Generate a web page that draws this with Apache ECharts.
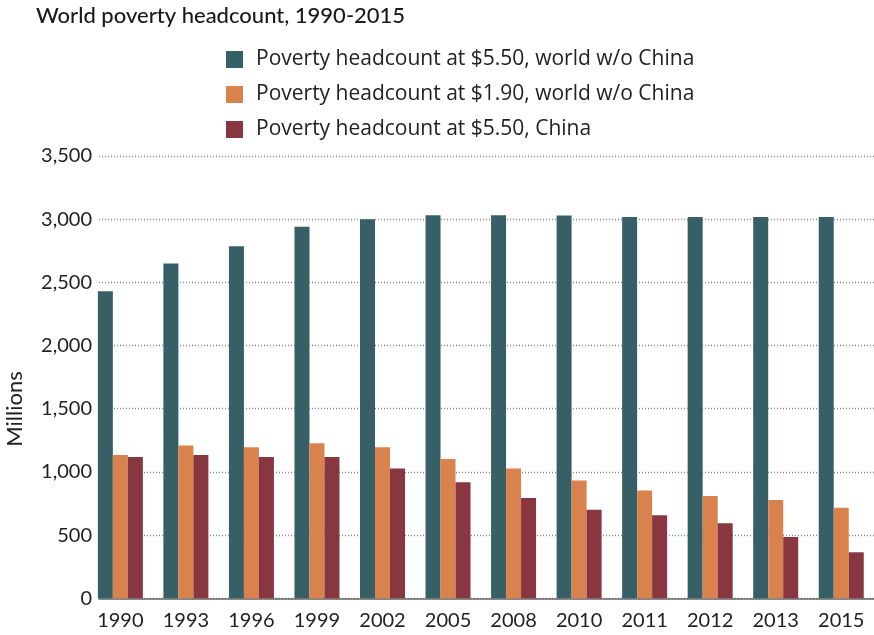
<!DOCTYPE html>
<html>
<head>
<meta charset="utf-8">
<script src="https://cdn.jsdelivr.net/npm/echarts@6/dist/echarts.min.js"></script>
<style>html,body{margin:0;padding:0;background:#fff}#c{width:874px;height:635px}</style>
</head>
<body>
<div id="c"></div>
<script>
var years = ['1990','1993','1996','1999','2002','2005','2008','2010','2011','2012','2013','2015'];
var world550 = [2430, 2650, 2785, 2940, 3000, 3032, 3032, 3030, 3017, 3017, 3017, 3017];
var world190 = [1134, 1210, 1195, 1226, 1195, 1102, 1028, 933, 854, 809, 778, 717];
var china550 = [1118, 1134, 1118, 1118, 1028, 918, 794, 701, 657, 593, 485, 364];
var seriesNames = ['Poverty headcount at $5.50, world w/o China', 'Poverty headcount at $1.90, world w/o China', 'Poverty headcount at $5.50, China'];
var colors = ['#366066', '#d9824e', '#883640'];
var FONT = 'Lato';
var chart = echarts.init(document.getElementById('c'), null, {renderer: 'canvas'});
var yBase = {type: 'value', min: 0, max: 3500, interval: 500};
chart.setOption({
  animation: false,
  textStyle: {fontFamily: FONT},
  legend: {orient: 'vertical', left: 221, top: 44, itemWidth: 17, itemHeight: 17, itemGap: 14,
    icon: 'rect', selectedMode: false,
    textStyle: {fontFamily: 'Open Sans', fontSize: 21, color: '#222', padding: [0, 0, 0, 8]},
    data: seriesNames},
  grid: [
    {left: 99, right: 0, top: 156, bottom: 36.7},
    {left: 87.6, right: -9.9, top: 156, bottom: 36.7}
  ],
  xAxis: [
    {gridIndex: 0, type: 'value', min: 0, max: 1, show: true,
      axisLine: {show: true, onZero: false, lineStyle: {color: '#666', width: 1.5}},
      axisTick: {show: false}, axisLabel: {show: false}, splitLine: {show: false}},
    {gridIndex: 1, type: 'category', data: years,
      axisLine: {show: false}, axisTick: {show: false},
      axisLabel: {fontFamily: FONT, fontSize: 20, color: '#222', margin: 12}}
  ],
  yAxis: [
    Object.assign({gridIndex: 0,
      axisLine: {show: false}, axisTick: {show: false},
      axisLabel: {fontFamily: FONT, fontSize: 20, color: '#222', margin: 7,
        formatter: function (v) { return v.toLocaleString('en-US'); }},
      splitLine: {show: true, lineStyle: {color: '#888', width: 1.3, type: [1, 2]}}}, yBase),
    Object.assign({gridIndex: 1, show: false, splitLine: {show: false}}, yBase)
  ],
  graphic: [
    {type: 'text', x: 36, y: 16,
      style: {text: 'World poverty headcount, 1990-2015', fontFamily: FONT, fontSize: 22, fontWeight: 500, fill: '#1a1a1a', align: 'left', verticalAlign: 'middle'}},
    {type: 'text', x: 15, y: 409, rotation: Math.PI / 2,
      style: {text: 'Millions', fontFamily: FONT, fontSize: 22, fill: '#222', align: 'center', verticalAlign: 'middle'}}
  ],
  series: [
    {name: seriesNames[0], type: 'bar', xAxisIndex: 1, yAxisIndex: 1, data: world550, barWidth: 15, barGap: '0%', itemStyle: {color: colors[0]}},
    {name: seriesNames[1], type: 'bar', xAxisIndex: 1, yAxisIndex: 1, data: world190, barWidth: 15, barGap: '0%', itemStyle: {color: colors[1]}},
    {name: seriesNames[2], type: 'bar', xAxisIndex: 1, yAxisIndex: 1, data: china550, barWidth: 15, barGap: '0%', itemStyle: {color: colors[2]}}
  ]
});
</script>
</body>
</html>
